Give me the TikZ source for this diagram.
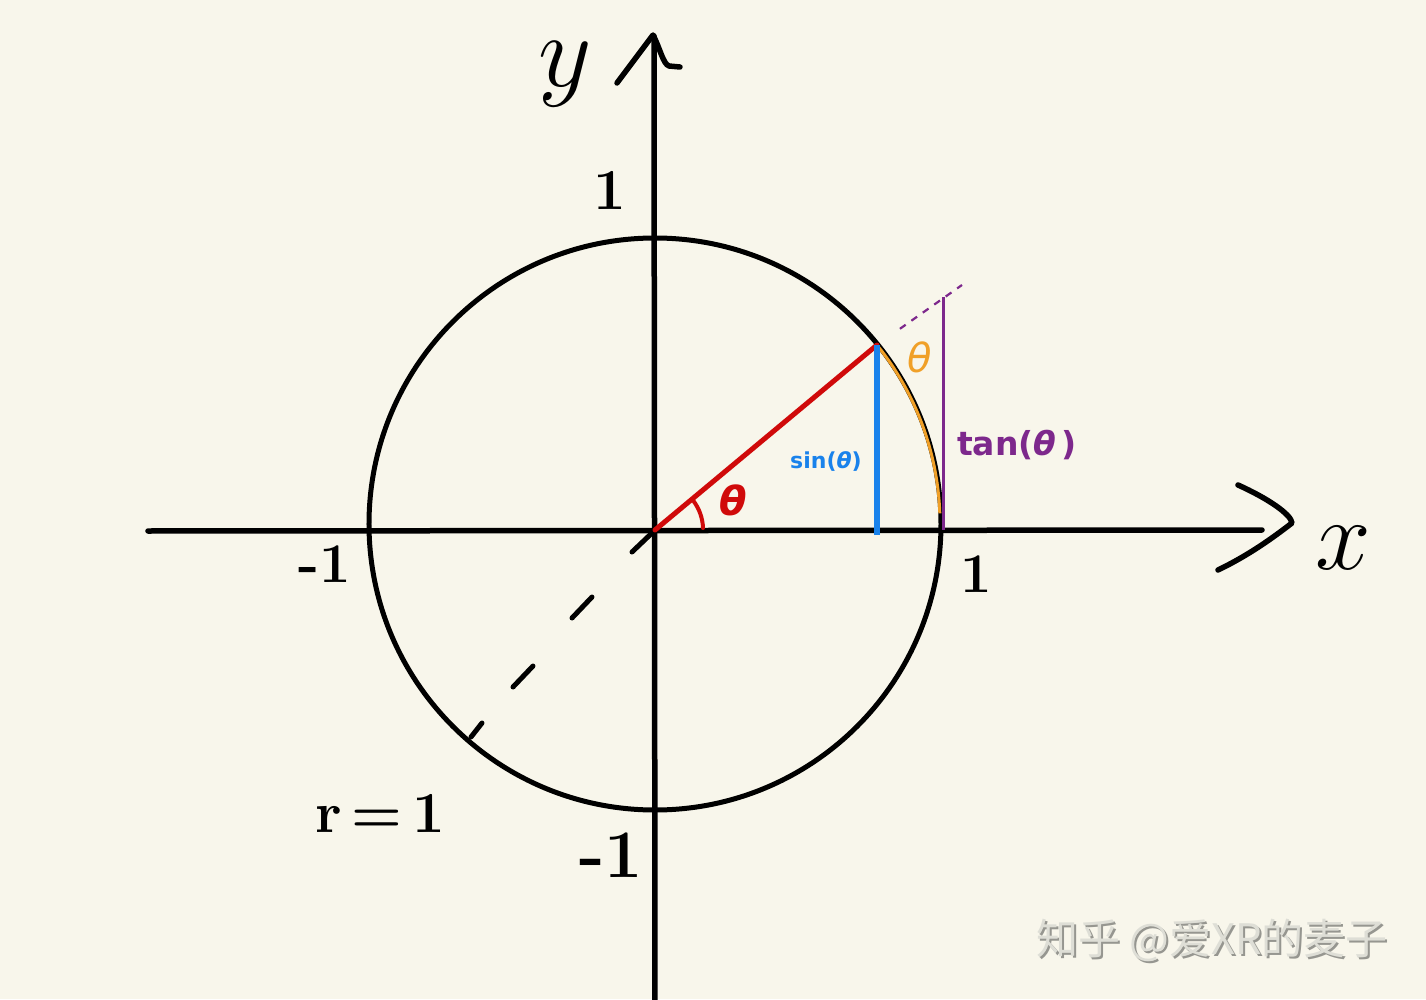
\RequirePackage{fix-cm}
\documentclass[tikz,border=0pt]{standalone}
\usepackage{fontspec}
\newfontfamily\cjk{Noto Sans CJK SC}
\newfontfamily\hand{DejaVu Sans}
\usetikzlibrary{calc}
\definecolor{bg}{RGB}{248,246,235}
\definecolor{myred}{RGB}{208,10,10}
\definecolor{myblue}{RGB}{25,130,235}
\definecolor{myorange}{RGB}{240,160,40}
\definecolor{mypurple}{RGB}{125,40,140}
\definecolor{wmshadow}{RGB}{150,150,144}
\definecolor{wmtext}{RGB}{222,222,214}
\tikzset{
  axis/.style={line width=5.5pt, black, line cap=round, line join=round},
  circ/.style={line width=5pt, black},
  lbl/.style={inner sep=0pt, outer sep=0pt, black},
  dashseg/.style={line width=5pt, black, line cap=round},
}
\newcommand{\fs}[1]{\fontsize{#1}{#1}\selectfont}
\newcommand{\mytheta}{{\itshape θ}}
\begin{document}
\begin{tikzpicture}[x=1pt,y=1pt]
\fill[bg] (-655,-469) rectangle (771,530);
\useasboundingbox (-655,-469) rectangle (771,530);

% key points
\coordinate (O) at (0,0);
\coordinate (C) at (0,6);
\coordinate (P) at (222,185);
\coordinate (Pb) at (222,-5);
\coordinate (T) at (288,233);
\coordinate (Tb) at (288,0);
\coordinate (XL) at (-507,-1);
\coordinate (XR) at (607,0);
\coordinate (YB) at (0,-472);
\coordinate (YT) at (-1,494);

% axes
\draw[axis] (XL) -- (XR);
\draw[axis] (583,45) .. controls (612,32) and (636,16) .. (637,7)
            .. controls (615,-10) and (592,-26) .. (563,-40);
\draw[axis] (YB) -- (YT);
\draw[axis] (-38,447) -- (-2,495) .. controls (5,482) and (8,466) .. (14,464) -- (25,463);

% unit circle
\draw[circ] (C) circle[radius=286];

% dashed radius (lower left)
\draw[dashseg] (-2,-2) -- (-23,-22);
\draw[dashseg] (-63,-67) -- (-83,-88);
\draw[dashseg] (-122,-136) -- (-142,-157);
\draw[dashseg] (-173,-193) -- (-184,-207);

% orange arc
\draw[myorange, line width=3pt] (P) arc[start angle=38.9, end angle=2, radius=284];

% purple tangent and dashed extension
\draw[mypurple, line width=3pt] (T) -- (Tb);
\draw[mypurple, line width=2.2pt, dash pattern=on 7pt off 7pt] ($(P)!0.27!(307,245)$) -- (307,245);

% red radius and angle mark
\draw[myred, line width=5pt, line cap=round] (O) -- (P);
\draw[myred, line width=4pt, line cap=round] (48,2) arc[start angle=2, end angle=37, radius=48];

% blue sine
\draw[myblue, line width=6pt] (P) -- (Pb);

% labels
\node[lbl] (ly) at (-90,456) {\fs{104}$y$};
\node[lbl] (lx) at (688,-18) {\fs{100}$x$};
\node[lbl] (l1t) at (-45,340) {\fs{58}\bfseries 1};
\node[lbl] (l1l) at (-330,-34) {\fs{56}\bfseries -1};
\node[lbl] (l1r) at (321,-44) {\fs{56}\bfseries 1};
\node[lbl] (l1b) at (-44,-325) {\fs{68}\bfseries -1};
\node[lbl] (lr) at (-275,-283) {\fs{58}\bfseries r\,{=}\,1};
\node[lbl, myred] (lth) at (78,30) {\hand\bfseries\fs{40}\mytheta};
\node[lbl, myblue] (lsin) at (171,68) {\hand\bfseries\fs{22}sin(\mytheta)};
\node[lbl, myorange] (lth2) at (265,173) {\hand\fs{40}\mytheta};
\node[lbl, mypurple] (ltan) at (362,85) {\hand\bfseries\fs{33}tan(\mytheta\,)};

% watermark
\node[lbl, wmshadow] (wms) at (559,-412) {\cjk\fs{42}知乎 @爱XR的麦子};
\node[lbl, wmtext] (wm) at (557,-410) {\cjk\fs{42}知乎 @爱XR的麦子};
\end{tikzpicture}
\end{document}
